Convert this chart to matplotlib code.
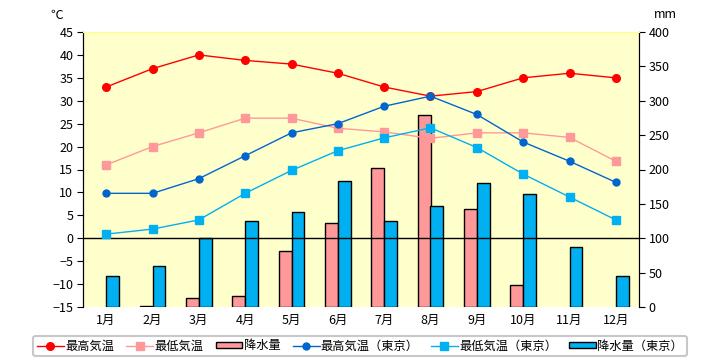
import numpy as np
import matplotlib
matplotlib.use("Agg")
from matplotlib import pyplot as plt
from matplotlib.lines import Line2D
from matplotlib.patches import Patch

plt.rcParams['font.family'] = ['Noto Sans CJK JP', 'DejaVu Sans']

months = ['1月', '2月', '3月', '4月', '5月', '6月', '7月', '8月', '9月', '10月', '11月', '12月']

# temperatures (C)
max_temp = [33, 37, 40, 38.8, 38, 36, 33, 31, 32, 35, 36, 35]
min_temp = [16, 20, 23, 26.2, 26.2, 24, 23.2, 21.8, 23, 23, 22, 16.8]
max_tokyo = [9.8, 9.8, 13, 18, 23, 25, 28.8, 31, 27, 21, 16.8, 12.2]
min_tokyo = [0.9, 2, 4, 9.8, 14.8, 19.1, 21.9, 24.1, 19.8, 14, 9, 4]

# precipitation (mm)
rain = [0, 1, 12.5, 15.5, 82, 122, 202, 279, 143, 31.5, 0, 0]
rain_tokyo = [45, 59, 100, 125, 138, 184, 125, 147, 180, 164, 88, 45]

x = np.arange(12) + 0.5
w = 0.28

fig = plt.figure(figsize=(7.2, 3.6), dpi=100)
ax = fig.add_axes([83/720, 53/360, 556/720, 275/360])
ax.set_facecolor('#FFFFCC')

# bars on right axis (months with no rain get no bar outline)
r = np.array(rain)
rt = np.array(rain_tokyo)
ax.bar(x[r > 0] - w/2, r[r > 0], width=w, color='#FF9999', edgecolor='black', linewidth=1, zorder=2)
ax.bar(x[rt > 0] + w/2, rt[rt > 0], width=w, color='#00B0F0', edgecolor='black', linewidth=1, zorder=2)
ax.set_xlim(0, 12)
ax.set_ylim(0, 400)
ax.set_yticks(np.arange(0, 401, 50))
ax.set_xticks(x)
ax.set_xticklabels(months)
ax.tick_params(axis='x', length=0, labelsize=9, pad=5)

# temperature lines on left axis
axT = ax.twinx()
ax.yaxis.tick_right()
ax.tick_params(axis='y', direction='out', length=4, labelsize=9, pad=3)
axT.set_ylim(-15, 45)
axT.set_yticks(np.arange(-15, 46, 5))
axT.yaxis.tick_left()
axT.tick_params(axis='y', direction='out', length=4, labelsize=9, pad=3)
axT.axhline(0, color='black', linewidth=1, zorder=1)
axT.plot(x, max_temp, color='#FF0000', marker='o', markersize=5.5, linewidth=1)
axT.plot(x, min_temp, color='#FF9999', marker='s', markersize=5.5, linewidth=1)
axT.plot(x, max_tokyo, color='#0066CC', marker='o', markersize=5, linewidth=1)
axT.plot(x, min_tokyo, color='#00B0F0', marker='s', markersize=5.5, linewidth=1)

for a in (ax, axT):
    a.spines['bottom'].set_visible(False)
    a.spines['top'].set_color('#FFFF80')
    a.spines['left'].set_color('black')
    a.spines['right'].set_color('black')

fig.text(57/720, 1 - 15/360, '℃', fontsize=9, ha='center', va='center')
fig.text(665/720, 1 - 15/360, 'mm', fontsize=9, ha='center', va='center')

handles = [
    Line2D([], [], color='#FF0000', marker='o', markersize=5.5, linewidth=1),
    Line2D([], [], color='#FF9999', marker='s', markersize=6, linewidth=1),
    Patch(facecolor='#FF9999', edgecolor='black'),
    Line2D([], [], color='#0066CC', marker='o', markersize=5, linewidth=1),
    Line2D([], [], color='#00B0F0', marker='s', markersize=6, linewidth=1),
    Patch(facecolor='#00B0F0', edgecolor='black'),
]
labels = ['最高気温', '最低気温', '降水量', '最高気温（東京）', '最低気温（東京）', '降水量（東京）']
leg = fig.legend(handles, labels, loc='center', bbox_to_anchor=(360/720, 1 - 346/360),
                 ncol=6, fontsize=8.8, frameon=True, fancybox=True, handlelength=2.2,
                 handleheight=0.4, handletextpad=0.1, columnspacing=1.0,
                 borderpad=0.3, edgecolor='#BBBBBB')
leg.get_frame().set_linewidth(1.5)

fig.savefig('out.png', dpi=100)
